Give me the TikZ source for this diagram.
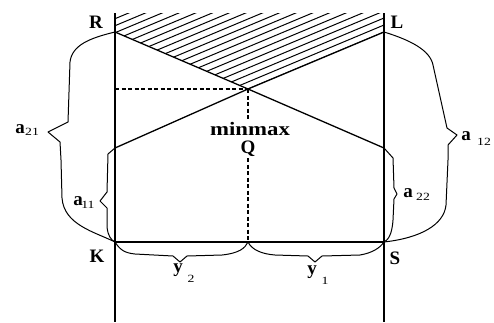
\documentclass[tikz,border=0pt]{standalone}
\usepackage{fontspec}
\setmainfont{Liberation Serif}
\begin{document}
\begin{tikzpicture}[x=1pt,y=-1pt,
  mainline/.style={line width=1.3pt},
  dashline/.style={line width=1.1pt,dash pattern=on 4pt off 2.5pt},
  bracepath/.style={line width=1pt,line join=round},
  hatchline/.style={line width=1pt},
  lbl/.style={font=\fontsize{19}{19}\selectfont\bfseries,inner sep=0pt,anchor=base},
  sublbl/.style={font=\fontsize{11}{11}\selectfont,inner sep=0pt,anchor=base,xscale=1.25}]
\useasboundingbox (0,0) rectangle (494,322);
\coordinate (Rtop) at (115,13);
\coordinate (Rbot) at (115,322);
\coordinate (Ltop) at (384,13);
\coordinate (Lbot) at (384,322);
\coordinate (R) at (115,32);
\coordinate (L) at (384,32);
\coordinate (M) at (248,89);
\coordinate (A) at (115,148);
\coordinate (B) at (384,148);
\coordinate (K) at (115,242);
\coordinate (S) at (384,242);
\coordinate (N) at (248,242);
\coordinate (H) at (115,89);
\coordinate (D1) at (248,119);
\coordinate (D2) at (248,158);
% hatching
\begin{scope}
\clip (Rtop) -- (Ltop) -- (L) -- (M) -- (R) -- cycle;
\foreach \c in {0,7,...,140}
  \draw[hatchline] (100,{151-\c}) -- (400,{25.3-\c});
\end{scope}
% main lines
\draw[mainline] (Rtop) -- (Rbot);
\draw[mainline] (Ltop) -- (Lbot);
\draw[mainline] (R) -- (M) -- (B);
\draw[mainline] (L) -- (M) -- (A);
\draw[mainline] (K) -- (S);
\draw[dashline] (H) -- (M);
\draw[dashline] (M) -- (D1);
\draw[dashline] (D2) -- (N);
% braces
\draw[bracepath] (R) .. controls (90,38) and (72,45) .. (70,62) -- (68,122) -- (62,125) -- (48,132) -- (60,142) -- (61,160) -- (62,198) .. controls (64,225) and (95,232) .. (K);
\draw[bracepath] (A) -- (108,154) -- (107,192) -- (100,201) -- (107,208) -- (107,227) .. controls (108,236) and (111,240) .. (K);
\draw[bracepath] (L) .. controls (410,40) and (430,50) .. (433,65) -- (447,128) -- (457,135) -- (448,145) -- (448,160) -- (446,205) .. controls (444,225) and (420,238) .. (S);
\draw[bracepath] (B) -- (393,158) -- (394,188) -- (397,194) -- (394,199) -- (393,220) .. controls (392,235) and (388,240) .. (S);
\draw[bracepath] (K) .. controls (120,250) and (125,253) .. (135,254) -- (173,256) -- (180,262) -- (187,256) -- (222,255) .. controls (240,253) and (245,248) .. (N);
\draw[bracepath] (N) .. controls (252,250) and (262,254) .. (275,255) -- (308,256) -- (315,262) -- (322,256) -- (360,255) .. controls (372,253) and (380,248) .. (S);
% labels
\node[lbl] (lR) at (96,28) {R};
\node[lbl] (lL) at (397,28) {L};
\node[lbl] (lK) at (97,262) {K};
\node[lbl] (lS) at (395,264) {S};
\node[lbl,xscale=1.2] (lmm) at (250,135) {minmax};
\node[lbl] (lQ) at (248,153) {Q};
\node[lbl] (a21) at (20,133) {a};
\node[sublbl] (s21) at (32,135) {21};
\node[lbl] (a11) at (78,205) {a};
\node[sublbl] (s11) at (88,208) {11};
\node[lbl] (a22) at (408,197) {a};
\node[sublbl] (s22) at (423,200) {22};
\node[lbl] (a12) at (466,140) {a};
\node[sublbl] (s12) at (484,145) {12};
\node[lbl] (y2) at (178,272) {y};
\node[sublbl] (s2) at (191,282) {2};
\node[lbl] (y1) at (312,274) {y};
\node[sublbl] (s1) at (325,284) {1};
\end{tikzpicture}
\end{document}
